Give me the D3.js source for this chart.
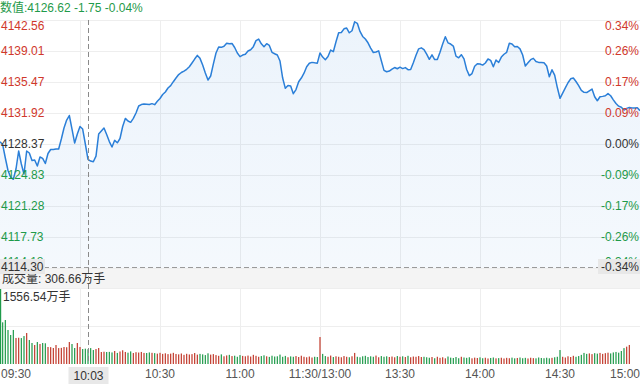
<!DOCTYPE html>
<html><head><meta charset="utf-8">
<script src="https://cdn.jsdelivr.net/npm/d3@7"></script>
<style>
html,body{margin:0;padding:0;background:#fff;}
svg{display:block;font-family:"Liberation Sans","Noto Sans CJK SC",sans-serif;}
</style></head>
<body>
<svg id="c" width="640" height="384"></svg>
<script>
// ---------- data ----------
const prevClose = 4128.37;
const prices = [
4128.63,4128.31,4126.77,4125.34,4124.57,4124.33,4125.51,4127.57,4126.08,4124.94,
4127.57,4127.34,4126.48,4126.54,4125.85,4126.88,4126.73,4126.14,4127.28,4127.74,
4127.74,4127.80,4127.80,4128.94,4130.20,4131.11,4131.63,4130.08,4128.48,4129.51,
4130.37,4130.08,4128.37,4126.62,4126.42,4126.34,4126.99,4129.51,4129.85,4130.20,
4129.45,4128.65,4128.03,4128.79,4128.51,4129.00,4130.37,4131.30,4131.00,4130.85,
4131.31,4131.92,4132.72,4132.88,4132.95,4132.92,4132.89,4132.99,4132.87,4133.26,
4133.58,4134.03,4134.32,4134.78,4135.05,4135.50,4135.92,4136.32,4136.55,4136.72,
4136.92,4137.21,4137.64,4138.09,4138.51,4138.17,4137.41,4136.49,4135.69,4136.15,
4137.52,4138.78,4139.47,4139.43,4139.56,4139.91,4139.84,4139.88,4139.41,4138.78,
4138.37,4138.55,4138.64,4139.01,4139.16,4139.51,4140.20,4140.38,4139.84,4139.50,
4139.85,4139.65,4138.86,4138.70,4138.55,4137.86,4135.92,4134.74,4135.06,4135.02,
4134.13,4134.60,4135.50,4135.92,4136.47,4137.21,4137.61,4137.71,4137.66,4137.62,
4138.78,4138.32,4138.02,4138.38,4139.12,4138.93,4140.07,4141.10,4141.13,4141.55,
4141.64,4141.10,4141.33,4142.35,4142.18,4141.25,4140.68,4140.38,4139.95,4139.35,
4138.84,4138.90,4139.03,4137.89,4136.80,4136.64,4136.72,4136.94,4137.12,4136.98,
4137.16,4137.00,4137.11,4136.88,4136.89,4137.67,4138.52,4139.26,4139.37,4139.18,
4138.66,4138.06,4138.57,4138.03,4138.05,4138.87,4139.81,4140.64,4139.95,4139.81,
4139.58,4138.43,4138.23,4138.59,4138.11,4136.90,4136.19,4136.43,4137.26,4137.55,
4137.52,4137.40,4137.64,4138.10,4137.94,4137.21,4137.98,4137.70,4138.32,4138.64,
4138.86,4139.89,4139.82,4139.49,4139.53,4139.26,4138.55,4137.29,4137.66,4138.02,
4138.17,4137.81,4137.71,4137.69,4137.66,4137.29,4136.07,4136.86,4136.26,4134.83,
4133.60,4134.20,4134.80,4135.38,4135.83,4135.92,4135.52,4135.05,4134.50,4134.28,
4134.25,4134.46,4134.66,4133.78,4133.32,4133.78,4133.82,4133.89,4134.14,4133.89,
4133.42,4133.00,4132.70,4132.58,4132.26,4132.45,4132.54,4132.50,4132.50,4132.53,
4132.18
];
const volumes = [
1556.54,865,913,706,602,706,540,545,538,580,643,498,436,394,456,415,436,430,353,350,
332,394,330,335,353,348,456,415,332,436,353,311,318,306.66,330,290,311,332,249,255,249,252,
240,270,230,260,285,250,235,262,228,245,238,250,230,228,240,232,226,215,232,210,
222,205,215,232,208,200,218,190,212,198,205,228,195,210,200,185,222,195,205,
185,170,200,160,178,190,165,172,150,185,168,160,175,155,190,170,150,165,180,160,
148,172,155,160,195,150,168,140,158,150,165,145,172,150,140,155,135,150,145,
560,
210,165,150,175,145,160,150,140,165,150,140,160,230,150,140,160,170,145,160,150,
175,140,165,150,160,145,155,140,165,150,160,145,170,140,155,150,165,145,150,140,
130,145,120,150,128,140,118,155,132,125,145,120,150,135,128,140,118,132,125,138,
120,130,115,125,135,118,122,130,115,128,120,132,118,125,135,120,128,115,130,122,
118,135,125,120,130,118,128,140,150,
290,
150,135,160,145,170,150,165,190,
230,210,220,205,225,215,230,210,225,235,220,240,250,235,270,330,360,395,
0,0,0,0
];
const priceTickLabels = ["4142.56","4139.01","4135.47","4131.92","4128.37","4124.83","4121.28","4117.73","4114.18"];
const pctTickLabels = ["0.34%","0.26%","0.17%","0.09%","0.00%","-0.09%","-0.17%","-0.26%","-0.34%"];
const timeTickMinutes = [0,60,90,120,150,180,210,240];
const timeTickLabels = ["09:30","10:30","11:00","11:30/13:00","13:30","14:00","14:30","15:00"];
const gridMinutes = [30,60,90,120,150,180,210];
const cursorMinute = 33, cursorLabel = "10:03", cursorPrice = 4114.30;
const volMax = 1556.54;

// ---------- layout ----------
const W = 640;
const pTop = 20, pBot = 268, vTop = 288, vBot = 364;
const RED = "#d0382b", GREEN = "#1f9a4a", DARK = "#333", GRID = "#eeeeee";
const svg = d3.select("#c");

const x = d3.scaleLinear().domain([0, 240]).range([0, W]);
const half = 4142.56 - prevClose;
const y = d3.scaleLinear().domain([prevClose - half, prevClose + half]).range([pBot, pTop]);
const yv = d3.scaleLinear().domain([0, volMax]).range([vBot, vTop + 1]);

// gradient
const defs = svg.append("defs");
const gr = defs.append("linearGradient").attr("id","ag").attr("x1",0).attr("y1",0).attr("x2",0).attr("y2",1);
gr.append("stop").attr("offset","0%").attr("stop-color","#2b7fd8").attr("stop-opacity",0.09);
gr.append("stop").attr("offset","100%").attr("stop-color","#2b7fd8").attr("stop-opacity",0.05);

// price grid
const priceTicks = d3.range(9).map(i => prevClose + half - i * half / 4);
svg.append("g").selectAll("line").data(priceTicks).join("line")
  .attr("x1",0).attr("x2",W).attr("y1",d=>Math.round(y(d))+0.5).attr("y2",d=>Math.round(y(d))+0.5)
  .attr("stroke",GRID);
svg.append("g").selectAll("line").data(gridMinutes).join("line")
  .attr("x1",d=>Math.round(x(d))+0.5).attr("x2",d=>Math.round(x(d))+0.5)
  .attr("y1",pTop).attr("y2",pBot).attr("stroke",GRID);

// area + line
const idx = d3.range(prices.length);
svg.append("path").datum(idx)
  .attr("d", d3.area().x(i=>x(i)).y0(pBot).y1(i=>y(prices[i])))
  .attr("fill","url(#ag)");
svg.append("path").datum(idx)
  .attr("d", d3.line().x(i=>x(i)).y(i=>y(prices[i])))
  .attr("fill","none").attr("stroke","#2b7fd8").attr("stroke-width",1.5).attr("stroke-linejoin","round");

// price axis labels
const colorFor = i => i < 4 ? RED : (i === 4 ? DARK : GREEN);
const baseFor = i => i === 0 ? "hanging" : (i === 8 ? "auto" : "central");
const yOff = i => i === 0 ? 1 : (i === 8 ? -2 : 0);
svg.append("g").selectAll("text").data(priceTicks).join("text")
  .attr("x",1).attr("y",(d,i)=>y(d)+yOff(i))
  .attr("dominant-baseline",(d,i)=>baseFor(i))
  .attr("font-size",12).attr("fill",(d,i)=>colorFor(i))
  .text((d,i)=>priceTickLabels[i]);
svg.append("g").selectAll("text").data(priceTicks).join("text")
  .attr("x",W-1).attr("y",(d,i)=>y(d)+yOff(i)).attr("text-anchor","end")
  .attr("dominant-baseline",(d,i)=>baseFor(i))
  .attr("font-size",12).attr("fill",(d,i)=>colorFor(i))
  .text((d,i)=>pctTickLabels[i]);

// header
const cp = prices[cursorMinute], ch = cp - prevClose;
svg.append("text").attr("x",0).attr("y",8).attr("dominant-baseline","central")
  .attr("font-size",12).attr("fill",GREEN)
  .text("数值:" + cp.toFixed(2) + " " + ch.toFixed(2) + " " + (ch/prevClose*100).toFixed(2) + "%");

// volume header band
svg.append("rect").attr("x",0).attr("y",pBot+1).attr("width",W).attr("height",vTop-pBot-1).attr("fill","#f4f4f4");
svg.append("text").attr("x",2).attr("y",279).attr("dominant-baseline","central")
  .attr("font-size",12).attr("fill",DARK)
  .text("成交量: " + volumes[cursorMinute].toFixed(2) + "万手");

// volume grid
svg.append("g").selectAll("line").data([vTop, (vTop+vBot)/2]).join("line")
  .attr("x1",0).attr("x2",W).attr("y1",d=>Math.round(d)+0.5).attr("y2",d=>Math.round(d)+0.5).attr("stroke",GRID);
svg.append("g").selectAll("line").data(gridMinutes).join("line")
  .attr("x1",d=>Math.round(x(d))+0.5).attr("x2",d=>Math.round(x(d))+0.5)
  .attr("y1",vTop).attr("y2",vBot).attr("stroke",GRID);

// volume bars
const up = i => i > 0 && prices[i] >= prices[i-1];
svg.append("g").selectAll("rect").data(idx.filter(i=>volumes[i]>0)).join("rect")
  .attr("x",i=>Math.max(0, x(i)-0.6)).attr("width",1.2)
  .attr("y",i=>yv(volumes[i])).attr("height",i=>vBot - yv(volumes[i]))
  .attr("fill",i=>up(i) ? "#c23a2c" : "#1f9a4a");

svg.append("text").attr("x",3).attr("y",297).attr("dominant-baseline","central")
  .attr("font-size",12).attr("fill",DARK)
  .text(d3.max(volumes).toFixed(2) + "万手");

// time labels
svg.append("g").selectAll("text").data(timeTickMinutes).join("text")
  .attr("x",(d,i)=> i===0 ? 1 : (i===timeTickMinutes.length-1 ? W : x(d)))
  .attr("y",374).attr("dominant-baseline","central")
  .attr("text-anchor",(d,i)=> i===0 ? "start" : (i===timeTickMinutes.length-1 ? "end" : "middle"))
  .attr("font-size",12).attr("fill","#555")
  .text((d,i)=>timeTickLabels[i]);

// crosshair
const cx = Math.round(x(cursorMinute)) + 0.5, cy = Math.round(y(cursorPrice)) + 0.5;
svg.append("line").attr("x1",cx).attr("x2",cx).attr("y1",pTop).attr("y2",vBot)
  .attr("stroke","#8a8a8a").attr("stroke-dasharray","5,3");
svg.append("line").attr("x1",44).attr("x2",598).attr("y1",cy).attr("y2",cy)
  .attr("stroke","#9a9a9a").attr("stroke-dasharray","5,3");

function box(xl, yt, w, h, txt, anchor, tx) {
  svg.append("rect").attr("x",xl).attr("y",yt).attr("width",w).attr("height",h).attr("fill","#e8e8e8");
  svg.append("text").attr("x",tx).attr("y",yt+h/2).attr("dominant-baseline","central")
    .attr("text-anchor",anchor).attr("font-size",12).attr("fill",DARK).text(txt);
}
box(0, 259, 45, 15, cursorPrice.toFixed(2), "start", 1);
const cpct = ((cursorPrice - prevClose)/prevClose*100).toFixed(2) + "%";
box(598, 259, 42, 15, cpct, "end", W-1);
box(cx-20, 367, 40, 17, cursorLabel, "middle", cx);
</script>
</body></html>
